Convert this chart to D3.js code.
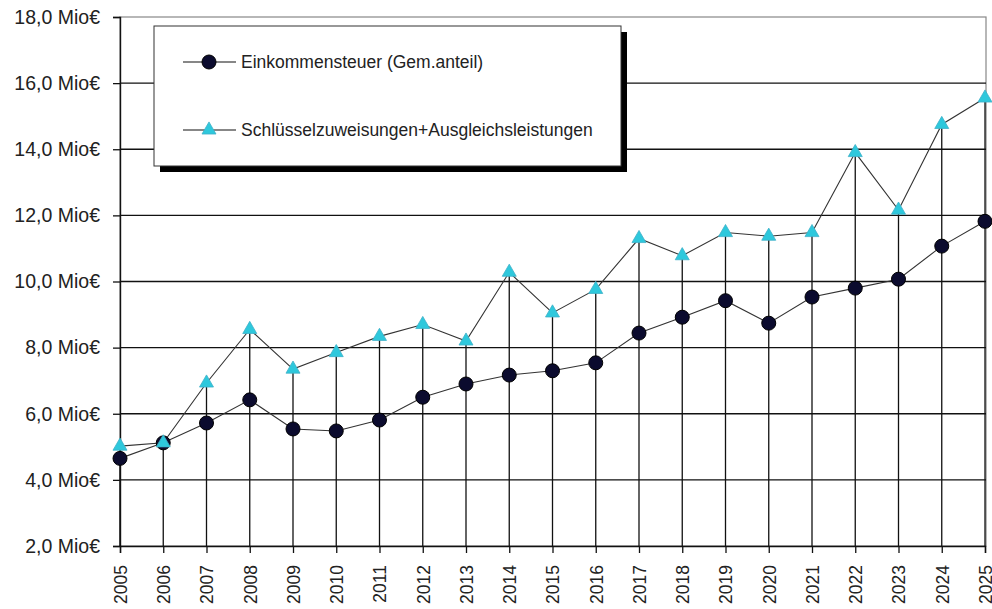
<!DOCTYPE html>
<html><head><meta charset="utf-8">
<script src="https://cdn.jsdelivr.net/npm/d3@7"></script>
<style>
html,body{margin:0;padding:0;background:#fff;}
svg{display:block;font-family:"Liberation Sans",Arial,sans-serif;}
</style></head>
<body>
<script>
const years = ["2005","2006","2007","2008","2009","2010","2011","2012","2013","2014","2015","2016","2017","2018","2019","2020","2021","2022","2023","2024","2025"];
const einkommensteuer = [4.65,5.12,5.72,6.42,5.54,5.48,5.81,6.50,6.90,7.17,7.30,7.54,8.44,8.92,9.42,8.74,9.53,9.80,10.07,11.07,11.82];
const schluessel = [5.02,5.12,6.93,8.55,7.35,7.85,8.34,8.70,8.20,10.28,9.05,9.76,11.30,10.78,11.48,11.37,11.48,13.90,12.16,14.75,15.55];
const yTicks = [2,4,6,8,10,12,14,16,18];
const seriesNames = ["Einkommensteuer (Gem.anteil)","Schlüsselzuweisungen+Ausgleichsleistungen"];

const W = 992, H = 609;
const svg = d3.select("body").append("svg").attr("width",W).attr("height",H);
const pLeft = 120, pRight = 986, pTop = 17, pBottom = 546;

const x = d3.scalePoint().domain(years).range([pLeft, pRight - 1]);
const y = d3.scaleLinear().domain([2,18]).range([pBottom, pTop]);

// plot border (gray)
svg.append("rect").attr("x",pLeft).attr("y",y(18)).attr("width",pRight-pLeft).attr("height",pBottom-y(18))
  .attr("fill","none").attr("stroke","#888").attr("stroke-width",1.2);

// horizontal gridlines
svg.append("g").selectAll("line").data(yTicks.filter(d=>d>2 && d<18)).join("line")
  .attr("x1",pLeft).attr("x2",pRight).attr("y1",d=>y(d)).attr("y2",d=>y(d))
  .attr("stroke","#111").attr("stroke-width",1.3);

// drop lines
svg.append("g").selectAll("line").data(years).join("line")
  .attr("x1",d=>x(d)).attr("x2",d=>x(d))
  .attr("y1",(d,i)=>y(Math.max(einkommensteuer[i],schluessel[i])))
  .attr("y2",pBottom)
  .attr("stroke","#111").attr("stroke-width",1.3);

// y axis
const yAxis = d3.axisLeft(y).tickValues(yTicks).tickSize(7).tickPadding(13)
  .tickFormat(d=>d3.format(".1f")(d).replace(".",",")+" Mio€");
const gy = svg.append("g").attr("transform",`translate(${pLeft},0)`).call(yAxis);
gy.select(".domain").attr("stroke","#111").attr("stroke-width",1.4);
gy.selectAll(".tick line").attr("stroke","#111").attr("stroke-width",1.3);
gy.selectAll("text").attr("font-size",19.5).attr("fill","#222");

// x axis
const xAxis = d3.axisBottom(x).tickSize(7).tickPadding(4);
const gx = svg.append("g").attr("transform",`translate(0,${pBottom})`).call(xAxis);
gx.select(".domain").attr("stroke","#111").attr("stroke-width",1.4);
gx.selectAll(".tick line").attr("stroke","#111").attr("stroke-width",1.3);
gx.selectAll("text").attr("font-size",17.5).attr("fill","#222")
  .attr("transform","rotate(-90)").attr("text-anchor","end")
  .attr("x",-19).attr("y",0).attr("dy","0.36em");

// lines
const line = d3.line().x((d,i)=>x(years[i])).y(d=>y(d));
svg.append("path").datum(schluessel).attr("d",line).attr("fill","none").attr("stroke","#333").attr("stroke-width",1.1);
svg.append("path").datum(einkommensteuer).attr("d",line).attr("fill","none").attr("stroke","#333").attr("stroke-width",1.1);

const tri = d3.symbol().type(d3.symbolTriangle).size(85);
function drawCircles(g, pts){
  g.selectAll("circle").data(pts).join("circle")
    .attr("cx",d=>d[0]).attr("cy",d=>d[1]).attr("r",7)
    .attr("fill","#0b0b2e").attr("stroke","#000").attr("stroke-width",1);
}
function drawTris(g, pts){
  g.selectAll("path").data(pts).join("path")
    .attr("d",tri).attr("transform",d=>`translate(${d[0]},${d[1]})`)
    .attr("fill","#2ec8dc").attr("stroke","#3fb0c8").attr("stroke-width",0.8);
}
drawCircles(svg.append("g"), einkommensteuer.map((v,i)=>[x(years[i]),y(v)]));
drawTris(svg.append("g"), schluessel.map((v,i)=>[x(years[i]),y(v)]));

// legend
const lg = svg.append("g");
const lx = 154, ly = 26, lw = 467, lh = 140;
lg.append("rect").attr("x",lx+6).attr("y",ly+6).attr("width",lw).attr("height",lh).attr("fill","#000");
lg.append("rect").attr("x",lx).attr("y",ly).attr("width",lw).attr("height",lh).attr("fill","#fff").attr("stroke","#333").attr("stroke-width",1);
const rows = [62,130];
rows.forEach((ry,i)=>{
  lg.append("line").attr("x1",183).attr("x2",236).attr("y1",ry).attr("y2",ry).attr("stroke","#111").attr("stroke-width",1.2);
  if(i===0) drawCircles(lg.append("g"), [[209,ry]]);
  else drawTris(lg.append("g"), [[209,ry]]);
  lg.append("text").attr("x",241).attr("y",ry).attr("dy","0.35em").attr("font-size",17.5).attr("fill","#222").text(seriesNames[i]);
});
</script>
</body></html>
